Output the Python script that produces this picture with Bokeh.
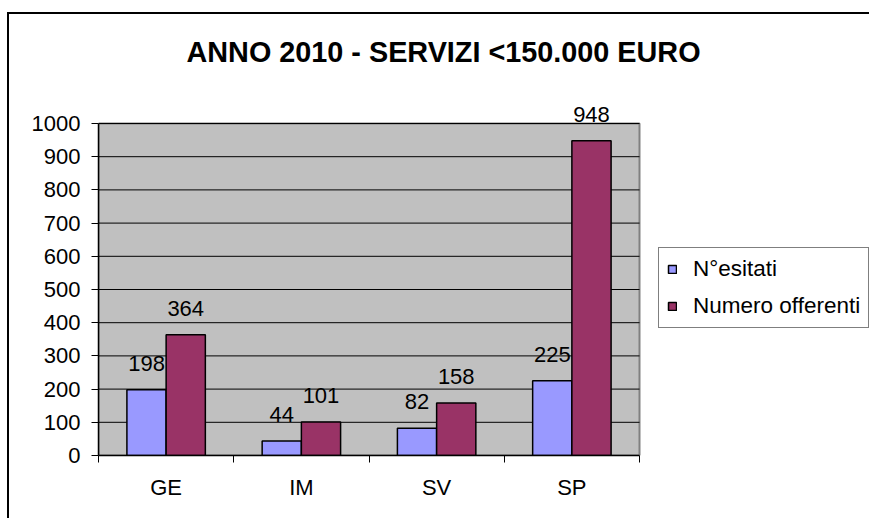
from bokeh.plotting import figure
from bokeh.models import (Range1d, FixedTicker, Legend, LegendItem, LabelSet, Label,
                          ColumnDataSource)
from bokeh.core.properties import value
from bokeh.transform import dodge
from bokeh.embed import file_html
from bokeh.resources import INLINE

# ---- data ----
categories = ["GE", "IM", "SV", "SP"]
esitati = [198, 44, 82, 225]
offerenti = [364, 101, 158, 948]
y_ticks = [0, 100, 200, 300, 400, 500, 600, 700, 800, 900, 1000]
series_names = ["N°esitati", "Numero offerenti"]
title_text = "ANNO 2010 - SERVIZI <150.000 EURO"

FONT = "Liberation Sans"
BLUE = "#9999FF"
MAROON = "#993366"
PLOT_BG = "#C0C0C0"

n = len(categories)
y_max = y_ticks[-1]
xc = [i + 0.5 for i in range(n)]
src = ColumnDataSource(dict(xc=xc, cat=categories, esit=esitati, offe=offerenti,
                            esit_s=[str(v) for v in esitati],
                            offe_s=[str(v) for v in offerenti]))

# ---- geometry (canvas pixels) ----
W, H = 862, 506
LEFT = 89            # frame left (y axis line)
PLOT_RIGHT = 630     # right edge of the grey plot area
PLOT_TOP = 109       # y of value 1000
PLOT_BOTTOM = 441    # y of value 0 (frame bottom)
frame_w = W - LEFT
x_hi = n * frame_w / (PLOT_RIGHT - LEFT)
y_hi = y_max * PLOT_BOTTOM / (PLOT_BOTTOM - PLOT_TOP)

p = figure(width=W, height=H, output_backend="svg", toolbar_location=None,
           x_range=Range1d(0, x_hi), y_range=Range1d(0, y_hi),
           min_border_left=LEFT, min_border_right=0, min_border_top=0,
           min_border_bottom=H - PLOT_BOTTOM)
p.styles = {"border-top": "2px solid black", "border-left": "2px solid black",
            "margin-top": "12px", "margin-left": "7px"}
p.background_fill_color = "white"
p.border_fill_color = "white"
p.outline_line_color = None

# grey plot area + gridlines
p.quad(left=[0], right=[n], bottom=[0], top=[y_max], fill_color=PLOT_BG,
       line_color="#808080", line_width=2)
p.segment(x0=[0] * (len(y_ticks) - 1), x1=[n] * (len(y_ticks) - 1),
          y0=y_ticks[1:], y1=y_ticks[1:], line_color="black", line_width=1)

# bars
off = 0.145
bw = 0.29
r1 = p.vbar(x=dodge("xc", -off, range=p.x_range), top="esit", width=bw, source=src,
            fill_color=BLUE, line_color="black", line_width=1.5)
r2 = p.vbar(x=dodge("xc", off, range=p.x_range), top="offe", width=bw, source=src,
            fill_color=MAROON, line_color="black", line_width=1.5)

# data labels
for col, dx in (("esit", -off), ("offe", off)):
    ls = LabelSet(x=dodge("xc", dx, range=p.x_range), y=col, text=col + "_s", source=src,
                  text_align="center", text_baseline="alphabetic", y_offset=19,
                  text_font=value(FONT), text_font_size=value("22px"),
                  text_color="black")
    p.add_layout(ls)

# axes
yax = p.yaxis[0]
yax.ticker = FixedTicker(ticks=y_ticks)
yax.bounds = (0, y_max)
yax.major_label_text_font = FONT
yax.major_label_text_font_size = "22px"
yax.major_label_text_color = "black"
yax.major_tick_out = 7
yax.major_tick_in = 0
yax.minor_tick_line_color = None
yax.major_tick_line_color = "black"
yax.axis_line_color = "black"
yax.axis_line_width = 1.5
yax.major_label_standoff = 11

xax = p.xaxis[0]
xax.ticker = FixedTicker(ticks=xc, minor_ticks=list(range(n + 1)))
xax.bounds = (0, n)
xax.major_label_overrides = {x: c for x, c in zip(xc, categories)}
xax.major_tick_line_color = None
xax.major_tick_out = 0
xax.major_tick_in = 0
xax.minor_tick_out = 7
xax.minor_tick_in = 0
xax.minor_tick_line_color = "black"
xax.axis_line_color = "black"
xax.axis_line_width = 1.5
xax.major_label_text_font = FONT
xax.major_label_text_font_size = "22px"
xax.major_label_text_color = "black"
xax.major_label_standoff = 12

p.xgrid.grid_line_color = None
p.ygrid.grid_line_color = None

# title (inside the frame, screen units from frame bottom-left)
p.add_layout(Label(x=88, y=PLOT_BOTTOM - 37, x_units="screen", y_units="screen",
                   text=title_text, text_align="left", text_baseline="alphabetic",
                   text_font=FONT, text_font_size="28.8px",
                   text_font_style="bold", text_color="black"))

# legend
legend = Legend(items=[LegendItem(label=series_names[0], renderers=[r1]),
                       LegendItem(label=series_names[1], renderers=[r2])],
                location=(649 - LEFT, PLOT_BOTTOM - 314), margin=0, padding=8,
                spacing=11, glyph_width=10, glyph_height=10, label_height=25,
                label_standoff=16, label_text_font=FONT,
                label_text_font_size="22.5px", label_text_color="black",
                border_line_color="black", border_line_width=1,
                background_fill_color="white", background_fill_alpha=1)
p.add_layout(legend)

open("out.html", "w").write(file_html(p, INLINE))
